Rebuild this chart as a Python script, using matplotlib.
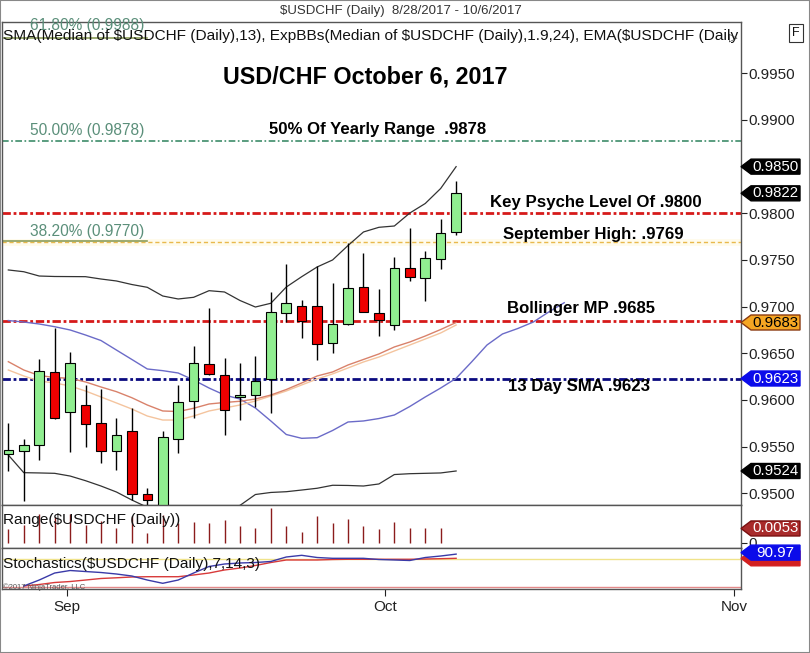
import numpy as np
import matplotlib
matplotlib.use("Agg")
import matplotlib.pyplot as plt
from matplotlib.patches import Polygon

plt.rcParams["font.family"] = ["Liberation Sans", "DejaVu Sans"]

# daily candles, 8/28/2017 - 10/6/2017
opens = [0.95421, 0.95456, 0.95514, 0.96296, 0.95874, 0.95943, 0.95750, 0.95456, 0.95671, 0.94989,
         0.94750, 0.95579, 0.95989, 0.96385, 0.96271, 0.96030, 0.96050, 0.96221, 0.96935, 0.97010,
         0.97007, 0.96607, 0.96811, 0.97207, 0.96935, 0.96800, 0.97411, 0.97304, 0.97514, 0.97797]
highs = [0.95756, 0.95579, 0.96442, 0.96768, 0.96514, 0.96164, 0.96121, 0.95810, 0.95917, 0.95054,
         0.95671, 0.96160, 0.96578, 0.96989, 0.96453, 0.96393, 0.96474, 0.97160, 0.97457, 0.97071,
         0.97435, 0.97250, 0.97679, 0.97578, 0.97189, 0.97529, 0.97839, 0.97600, 0.97936, 0.98350]
lows = [0.95242, 0.94921, 0.95357, 0.95800, 0.95442, 0.95499, 0.95321, 0.95250, 0.94928, 0.94700,
        0.94640, 0.95435, 0.95804, 0.96270, 0.95625, 0.95785, 0.95928, 0.95857, 0.96839, 0.96661,
        0.96428, 0.96506, 0.96800, 0.96940, 0.96689, 0.96750, 0.97278, 0.97064, 0.97400, 0.97768]
closes = [0.95464, 0.95514, 0.96307, 0.95807, 0.96399, 0.95746, 0.95456, 0.95621, 0.94989, 0.94928,
          0.95600, 0.95975, 0.96400, 0.96275, 0.95893, 0.96050, 0.96200, 0.96939, 0.97036, 0.96849,
          0.96596, 0.96811, 0.97200, 0.96943, 0.96857, 0.97411, 0.97321, 0.97518, 0.97786, 0.98214]

# indicators
upper_band = [0.97393, 0.97374, 0.97328, 0.97323, 0.97322, 0.97321, 0.97296, 0.97275, 0.97237, 0.97207,
              0.97114, 0.97082, 0.97100, 0.97171, 0.97157, 0.97066, 0.96996, 0.97036, 0.97210, 0.97321,
              0.97425, 0.97500, 0.97655, 0.97800, 0.97850, 0.97864, 0.98003, 0.98105, 0.98266, 0.98500]
lower_band = [0.95410, 0.95221, 0.95218, 0.95214, 0.95185, 0.95135, 0.95078, 0.95014, 0.94928, 0.94850,
              0.94800, 0.94780, 0.94780, 0.94790, 0.94830, 0.94870, 0.94987, 0.95009, 0.95017, 0.95035,
              0.95054, 0.95086, 0.95084, 0.95078, 0.95100, 0.95201, 0.95210, 0.95214, 0.95218, 0.95239]
mid_line = [0.96851, 0.96835, 0.96814, 0.96785, 0.96750, 0.96696, 0.96637, 0.96535, 0.96434, 0.96332,
            0.96314, 0.96289, 0.96214, 0.96128, 0.96053, 0.96010, 0.95914, 0.95775, 0.95630, 0.95589,
            0.95596, 0.95673, 0.95764, 0.95775, 0.95801, 0.95839, 0.95930, 0.96032, 0.96128, 0.96232,
            0.96407, 0.96589, 0.96707, 0.96766, 0.96835, 0.96943, 0.97042]
ema_a = [0.96410, 0.96321, 0.96262, 0.96241, 0.96232, 0.96193, 0.96139, 0.96089, 0.96024, 0.95946,
         0.95882, 0.95876, 0.95911, 0.95957, 0.95973, 0.95986, 0.96010, 0.96053, 0.96112, 0.96182,
         0.96257, 0.96300, 0.96375, 0.96434, 0.96493, 0.96568, 0.96621, 0.96685, 0.96755, 0.96830]
ema_b = [0.96321, 0.96257, 0.96203, 0.96182, 0.96150, 0.96096, 0.96032, 0.95968, 0.95903, 0.95828,
         0.95785, 0.95785, 0.95828, 0.95882, 0.95914, 0.95946, 0.95989, 0.96042, 0.96096, 0.96161,
         0.96225, 0.96279, 0.96343, 0.96407, 0.96460, 0.96525, 0.96589, 0.96653, 0.96718, 0.96803]

# stochastics, from the 2nd bar on
stoch_k = [22.7, 35.5, 50.5, 55.9, 53.7, 51.6, 48.4, 44.1, 35.5, 28.5, 35.5, 50.5, 64.5, 69.8, 72.0,
           73.0, 75.2, 84.8, 88.4, 83.7, 82.0, 82.0, 82.0, 79.4, 78.4, 77.3, 83.7, 86.9, 90.97]
stoch_d = [22.7, 25.9, 30.2, 32.3, 35.5, 38.8, 40.3, 42.0, 42.6, 42.6, 42.6, 46.3, 50.5, 57.0, 61.2,
           66.6, 73.0, 78.4, 78.4, 78.4, 79.4, 79.9, 79.9, 79.9, 79.9, 79.9, 80.5, 81.2, 82.0]

month_ticks = [3.8, 24.4, 47.0]
month_labels = ["Sep", "Oct", "Nov"]
price_ticks = [0.9500, 0.9550, 0.9600, 0.9650, 0.9700, 0.9750, 0.9800, 0.9850, 0.9900, 0.9950]

W, H = 810, 653
fig = plt.figure(figsize=(W / 100, H / 100), dpi=100)


def px_axes(left, top, right, bottom):
    return fig.add_axes([left / W, 1 - bottom / H, (right - left) / W, (bottom - top) / H])


ax = px_axes(2, 21.7, 741, 505)
ax_r = px_axes(2, 505, 741, 547.7)
ax_s = px_axes(2, 547.7, 741, 589)

XL = (-0.41, 47.45)
for a in (ax, ax_r, ax_s):
    a.set_xlim(*XL)
    a.yaxis.tick_right()
    a.tick_params(axis="y", direction="out", length=4, pad=1.5, colors="#222", labelsize=11)
    a.tick_params(axis="x", bottom=False, labelbottom=False)
    for s in a.spines.values():
        s.set_color("#555")
        s.set_linewidth(1)

# ---- price panel ----
ax.set_ylim(0.948746, 1.00053)
ax.set_yticks(price_ticks)
# 0.9850 sits under the upper band's price flag
ax.set_yticklabels(["" if v == 0.9850 else "%.4f" % v for v in price_ticks])

x = np.arange(len(opens))
o = np.array(opens)
c = np.array(closes)
hi = np.array(highs)
lo = np.array(lows)

# horizontal levels
ax.axhline(0.9878, color="#3d8c6a", lw=1.2, ls=(0, (4, 1.5, 1, 1.5)), zorder=2)
ax.axhline(0.9769, color="#fffbec", lw=5, zorder=1)
ax.axhline(0.9769, color="#e9b94c", lw=1.0, ls=(0, (3, 2)), zorder=2)
ax.axhline(0.9800, color="#d61a1a", lw=2, ls=(0, (3, 1, 1, 1)), zorder=2)
ax.axhline(0.9685, color="#d61a1a", lw=2, ls=(0, (3, 1, 1, 1)), zorder=2)
ax.axhline(0.9623, color="#0a0a80", lw=2, ls=(0, (3, 1, 1, 1)), zorder=2)
ax.plot([XL[0], 9.0], [0.9770, 0.9770], color="#8c9d5a", lw=1.2, zorder=2)
ax.plot([XL[0], 9.0], [0.9988, 0.9988], color="#8c9d5a", lw=1.2, zorder=2)

# indicator lines
ax.plot(x, upper_band, color="#333333", lw=0.9, zorder=3)
ax.plot(x, lower_band, color="#333333", lw=0.9, zorder=3)
ax.plot(np.arange(len(mid_line)), mid_line, color="#6b6bc8", lw=1.0, zorder=3)
ax.plot(x, ema_b, color="#f4c49e", lw=1.0, zorder=3)
ax.plot(x, ema_a, color="#d9826b", lw=1.0, zorder=3)

# candles
up = c >= o
ax.vlines(x, lo, hi, color="black", lw=1, zorder=4)
ax.bar(x, np.abs(c - o), bottom=np.minimum(o, c), width=0.62,
       color=np.where(up, "#90ee90", "#ee0000"), edgecolor="black", linewidth=0.8, zorder=5)

# texts in the price panel
ax.text(0.0015, 0.970, "SMA(Median of $USDCHF (Daily),13), ExpBBs(Median of $USDCHF (Daily),1.9,24), "
        "EMA($USDCHF (Daily", transform=ax.transAxes, ha="left", va="center", fontsize=11.1,
        color="#111", clip_on=True, zorder=7)
ax.text(1.4, 1.00010, "61.80% (0.9988)", ha="left", va="center", fontsize=11.2, color="#5b8f7a", zorder=6)
ax.text(1.4, 0.98892, "50.00% (0.9878)", ha="left", va="center", fontsize=11.2, color="#5b8f7a", zorder=6)
ax.text(1.4, 0.97800, "38.20% (0.9770)", ha="left", va="center", fontsize=11.2, color="#5b8f7a", zorder=6)

bold = dict(ha="left", va="center", fontsize=12.1, fontweight="bold", color="black", zorder=6)
ax.text(23.1, 0.99461, "USD/CHF October 6, 2017", ha="center", va="center", fontsize=16.8,
        fontweight="bold", color="black", zorder=6)
ax.text(16.88, 0.98903, "50% Of Yearly Range  .9878", **bold)
ax.text(31.2, 0.98121, "Key Psyche Level Of .9800", **bold)
ax.text(32.04, 0.97778, "September High: .9769", **bold)
ax.text(32.3, 0.96975, "Bollinger MP .9685", **bold)
ax.text(32.36, 0.96139, "13 Day SMA .9623", **bold)

# ---- range panel ----
ranges = (hi - lo)[:-1]
ax_r.set_ylim(-0.00186, 0.01404)
ax_r.vlines(x[:-1], 0, ranges, color="#8b1c1c", lw=1)
ax_r.set_yticks([0])
ax_r.set_yticklabels(["0"])
ax_r.text(0.002, 0.65, "Range($USDCHF (Daily))", transform=ax_r.transAxes, ha="left", va="center",
          fontsize=11.1, color="#111")

# ---- stochastics panel ----
ax_s.set_ylim(16.3, 104.7)
ax_s.axhline(80, color="#f0e38a", lw=1)
ax_s.axhline(20, color="#e48a8a", lw=1)
xs = np.arange(1, 1 + len(stoch_k))
ax_s.plot(xs, stoch_d, color="#d83a3a", lw=1)
ax_s.plot(xs, stoch_k, color="#3a3aa8", lw=1)
ax_s.set_yticks([])
ax_s.text(0.002, 0.605, "Stochastics($USDCHF (Daily),7,14,3)", transform=ax_s.transAxes, ha="left",
          va="center", fontsize=11.1, color="#111")
ax_s.text(0.002, 0.05, "\u00a92017 NinjaTrader, LLC", transform=ax_s.transAxes, ha="left", va="center",
          fontsize=5.5, color="#555")

ax_s.set_xticks(month_ticks)
ax_s.set_xticklabels(month_labels)
ax_s.tick_params(axis="x", bottom=True, labelbottom=True, direction="out", length=5, pad=3,
                 colors="#222", labelsize=11)

# ---- price flags on the right axis ----
fig.canvas.draw()


def flag(a, value, text, fc, tc, ec=None, half=7.5, dy=0):
    y = a.transData.transform((0, value))[1] + dy
    x0 = a.bbox.x1
    pts = [(x0, y), (x0 + 10, y + half), (x0 + 59, y + half), (x0 + 59, y - half), (x0 + 10, y - half)]
    pts = [(px / W, py / H) for px, py in pts]
    fig.patches.append(Polygon(pts, closed=True, transform=fig.transFigure, facecolor=fc,
                               edgecolor=ec or fc, lw=1, zorder=4))
    if text:
        fig.text((x0 + 34.5) / W, y / H, text, ha="center", va="center", color=tc, fontsize=10.8, zorder=5)


flag(ax, 0.9850, "0.9850", "black", "white")
flag(ax, 0.98214, "0.9822", "black", "white")
flag(ax, 0.96830, "0.9683", "#f5a623", "black", ec="#8a3a10")
flag(ax, 0.9623, "0.9623", "#0b0bea", "white")
flag(ax, 0.95239, "0.9524", "black", "white")
flag(ax_r, 0.0053, "0.0053", "#a82a2a", "white", ec="#7a1010")
# %D flag sits mostly hidden under the %K flag
flag(ax_s, 82.0, "", "#d32020", "white")
flag(ax_s, 90.97, "90.97", "#0b0bea", "white", dy=1.5)

# header bits
fig.text(401 / W, 1 - 11 / H, "$USDCHF (Daily)  8/28/2017 - 10/6/2017", ha="center", va="center",
         fontsize=9.5, color="#333")
fig.text(796 / W, 1 - 33 / H, "F", ha="center", va="center", fontsize=9, color="#111",
         bbox=dict(boxstyle="square,pad=0.25", fc="white", ec="#333", lw=0.8))
fig.text(733 / W, 1 - 38 / H, "\u25b7", ha="center", va="center", fontsize=8, color="#333",
         family="DejaVu Sans")

fig.patches.append(plt.Rectangle((0, 0), 1, 1, transform=fig.transFigure, fill=False,
                                 edgecolor="#888", lw=1.5, zorder=0))

fig.savefig("out.png", dpi=100)
